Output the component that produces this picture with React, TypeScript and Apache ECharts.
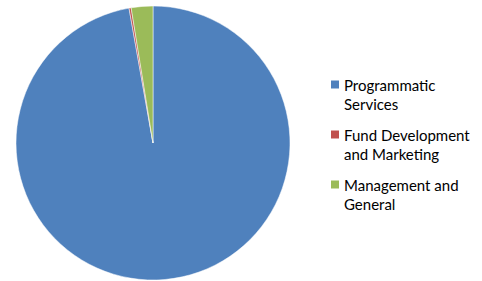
import React, { useEffect, useRef } from "react";
import * as echarts from "echarts";

const categories = ["Programmatic Services", "Fund Development and Marketing", "Management and General"];
const legendLabels = ["Programmatic\nServices", "Fund Development\nand Marketing", "Management and\nGeneral"];
const values = [97.2, 0.25, 2.55];
const colors = ["#4F81BD", "#C0504D", "#9BBB59"];

export default function App() {
  const ref = useRef<HTMLDivElement>(null);
  useEffect(() => {
    if (!ref.current) return;
    const chart = echarts.init(ref.current, null, { renderer: "svg" });
    const labelMap: Record<string, string> = {};
    categories.forEach((c, i) => (labelMap[c] = " \n" + legendLabels[i]));
    chart.setOption({
      animation: false,
      backgroundColor: "#ffffff",
      color: colors,
      legend: {
        orient: "vertical",
        left: 331,
        top: 56,
        padding: 0,
        itemWidth: 8,
        itemHeight: 8,
        itemGap: -7,
        icon: "rect",
        itemStyle: { borderWidth: 0 },
        formatter: (name: string) => labelMap[name] ?? name,
        textStyle: {
          fontFamily: "Lato, 'Noto Sans', sans-serif",
          fontSize: 15,
          lineHeight: 19,
          color: "#000000",
        },
        data: categories,
      },
      series: [
        {
          type: "pie",
          center: [153, 143],
          radius: 137,
          startAngle: 90,
          clockwise: true,
          label: { show: false },
          labelLine: { show: false },
          itemStyle: { borderColor: "#ffffff", borderWidth: 0.5 },
          emphasis: { disabled: true },
          data: categories.map((c, i) => ({ name: c, value: values[i] })),
        },
      ],
    });
    return () => chart.dispose();
  }, []);
  return (
    <div
      ref={ref}
      style={{ position: "fixed", left: 0, top: 0, width: 482, height: 281 }}
    />
  );
}
